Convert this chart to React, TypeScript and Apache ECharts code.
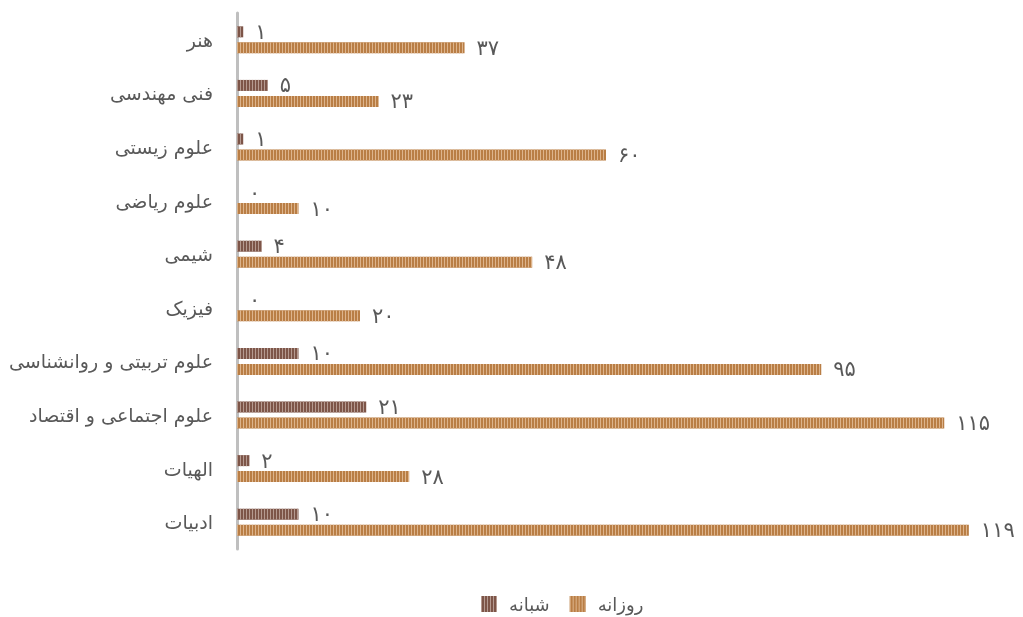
import React, { useEffect, useRef } from "react";
import * as echarts from "echarts";

const categories = [
  "هنر",
  "فنی مهندسی",
  "علوم زیستی",
  "علوم ریاضی",
  "شیمی",
  "فیزیک",
  "علوم تربیتی و روانشناسی",
  "علوم اجتماعی و اقتصاد",
  "الهیات",
  "ادبیات",
];
const nightValues = [1, 5, 1, 0, 4, 0, 10, 21, 2, 10];
const dayValues = [37, 23, 60, 10, 48, 20, 95, 115, 28, 119];
const seriesNames = ["شبانه", "روزانه"];

const toFa = (n: number | string) =>
  String(n).replace(/\d/g, (d) => "۰۱۲۳۴۵۶۷۸۹"[Number(d)]);

const FONT = "'DejaVu Sans', sans-serif";

export default function App() {
  const ref = useRef<HTMLDivElement>(null);
  useEffect(() => {
    if (!ref.current) return;
    const chart = echarts.init(ref.current, null, { renderer: "svg" });
    const label = {
      show: true,
      position: "right" as const,
      distance: 12,
      color: "#595959",
      fontSize: 21,
      fontFamily: FONT,
      formatter: (p: any) => toFa(p.value),
    };
    chart.setOption({
      animation: false,
      textStyle: { fontFamily: FONT },
      grid: { left: 237, right: 48, top: 13, bottom: 68 },
      legend: {
        top: 595,
        left: 481,
        padding: 0,
        icon: "rect",
        itemWidth: 16,
        itemHeight: 16,
        itemGap: 20,
        textStyle: {
          fontSize: 18,
          color: "#595959",
          fontFamily: FONT,
          padding: [0, 0, 0, 7],
        },
        data: seriesNames,
      },
      xAxis: {
        type: "value",
        min: 0,
        max: 120,
        show: false,
      },
      yAxis: {
        type: "category",
        inverse: true,
        data: categories,
        axisLine: { show: true, lineStyle: { color: "#BFBFBF", width: 3 } },
        axisTick: { show: false },
        axisLabel: { fontSize: 19, color: "#595959", margin: 24, fontFamily: FONT },
      },
      series: [
        {
          name: seriesNames[0],
          type: "bar",
          data: nightValues,
          barWidth: 11,
          barGap: "45%",
          itemStyle: {
            color: "#7D5548",
            decal: {
              symbol: "rect",
              symbolSize: 1,
              dashArrayX: [1, 2],
              dashArrayY: [10, 0],
              color: "#B59A90",
            },
          },
          label,
        },
        {
          name: seriesNames[1],
          type: "bar",
          data: dayValues,
          barWidth: 11,
          itemStyle: {
            color: "#B97E45",
            decal: {
              symbol: "rect",
              symbolSize: 1,
              dashArrayX: [1, 2],
              dashArrayY: [10, 0],
              color: "#DDB48C",
            },
          },
          label,
        },
      ],
    });
    return () => chart.dispose();
  }, []);
  return (
    <div
      ref={ref}
      style={{ position: "fixed", left: 0, top: 0, width: 1023, height: 617 }}
    />
  );
}
